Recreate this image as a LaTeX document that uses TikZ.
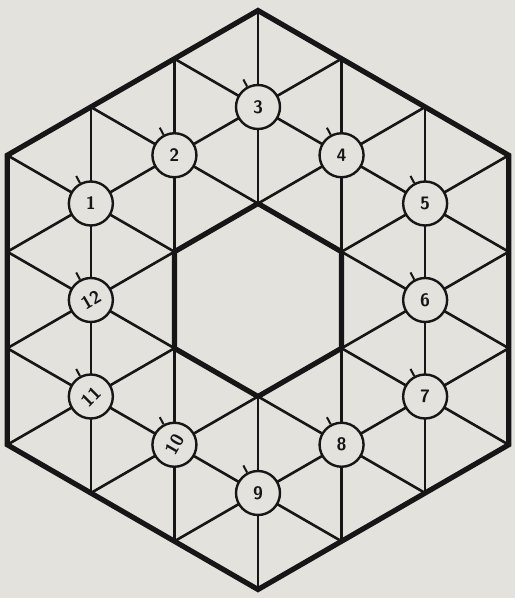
\documentclass[tikz,border=0pt]{standalone}
\definecolor{paper}{RGB}{228,226,220}
\definecolor{ink}{RGB}{22,22,22}
\tikzset{
  gridline/.style={ink, line width=2.6pt},
  thickline/.style={ink, line width=5.2pt, line join=miter},
  numcircle/.style={circle, draw=ink, fill=paper, line width=2.4pt, minimum size=44pt, inner sep=0pt,
    font=\fontsize{18}{18}\selectfont\sffamily\bfseries, text=ink},
  tickmark/.style={ink, line width=2pt}
}
\begin{document}
\begin{tikzpicture}[x=1pt,y=1pt]
\fill[paper] (-258,-298) rectangle (257,300);
\useasboundingbox (-258,-298) rectangle (257,300);
\def\s{96.5}
% lattice points
\foreach \i in {-3,...,3}{
  \foreach \j in {-3,...,3}{
    \coordinate (p\i\j) at ({\i*0.8660254*\s},{\i*0.5*\s+\j*\s});
  }
}
% grid edges in the ring
\foreach \i in {-3,...,3}{
  \foreach \j in {-3,...,3}{
    \pgfmathtruncatemacro\na{max(abs(\i),abs(\j),abs(\i+\j))}
    \ifnum\na>0 \ifnum\na<4
      \foreach \di/\dj in {1/0,0/1,-1/1}{
        \pgfmathtruncatemacro\ii{\i+\di}
        \pgfmathtruncatemacro\jj{\j+\dj}
        \pgfmathtruncatemacro\nb{max(abs(\ii),abs(\jj),abs(\ii+\jj))}
        \ifnum\nb>0 \ifnum\nb<4
          \draw[gridline] (p\i\j) -- (p\ii\jj);
        \fi\fi
      }
    \fi\fi
  }
}
% hexagons
\draw[thickline] (p03) -- (p30) -- (p3-3) -- (p0-3) -- (p-30) -- (p-33) -- cycle;
\draw[thickline] (p01) -- (p10) -- (p1-1) -- (p0-1) -- (p-10) -- (p-11) -- cycle;
% numbered circles
\node[numcircle] (c1) at (p-22) {1};
\node[numcircle] (c2) at (p-12) {2};
\node[numcircle] (c3) at (p02) {3};
\node[numcircle] (c4) at (p11) {4};
\node[numcircle] (c5) at (p20) {5};
\node[numcircle] (c6) at (p2-1) {6};
\node[numcircle] (c7) at (p2-2) {7};
\node[numcircle] (c8) at (p1-2) {8};
\node[numcircle] (c9) at (p0-2) {9};
\node[numcircle] (c10) at (p-1-1) {\rotatebox{60}{10}};
\node[numcircle] (c11) at (p-20) {\rotatebox{45}{11}};
\node[numcircle] (c12) at (p-21) {\rotatebox{30}{12}};
\foreach \k in {1,...,12}{
  \draw[tickmark] (c\k.118) -- ++(118:8);
}
\end{tikzpicture}
\end{document}
